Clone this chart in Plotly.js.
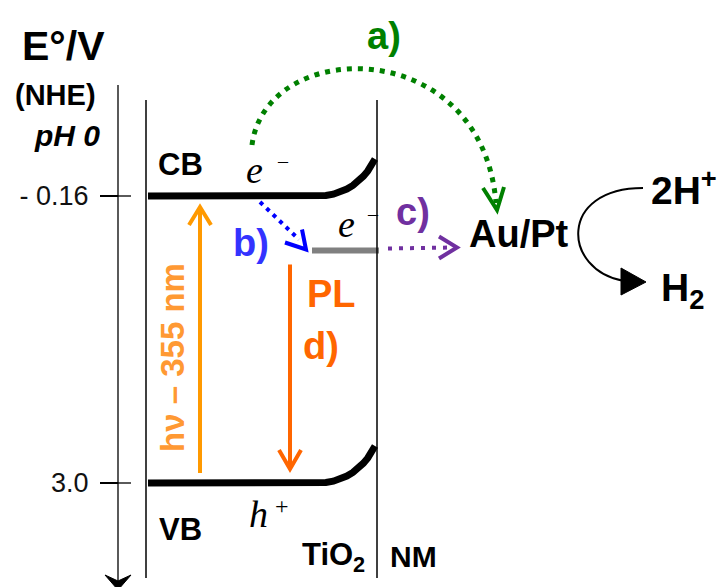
<!DOCTYPE html>
<html><head><meta charset="utf-8">
<script src="https://cdn.plot.ly/plotly-3.0.1.min.js"></script>
<style>html,body{margin:0;padding:0;background:#fff}#chart{width:721px;height:587px}</style>
</head><body><div id="chart"></div>
<script>
// ---- data ----
const levelNames = ['CB', 'VB'];
const levelEnergies = [-0.16, 3.0];      // E°/V vs NHE, pH 0
const tickLabels = ['- 0.16', '3.0'];
const nmLevelEnergy = 0.44;               // NM acceptor level
const processLabels = ['a)', 'b)', 'c)', 'd)'];
const excitationLabel = 'hν – 355 nm';
const emissionLabel = 'PL';
const materials = ['TiO<sub>2</sub>', 'NM'];
const cocatalyst = 'Au/Pt';
const reactant = '2H<sup>+</sup>';
const product = 'H<sub>2</sub>';
const carriers = ['e', 'e', 'h'];
const carrierSigns = ['–', '–', '+'];

// ---- layout helpers ----
const W = 721, H = 587;
const PX0 = 196, PX1 = 483;
const k = (PX1 - PX0) / (levelEnergies[1] - levelEnergies[0]);
const Etop = levelEnergies[0] - PX0 / k;
const Ebot = levelEnergies[1] + (H - PX1) / k;
const py = e => PX0 + (e - levelEnergies[0]) * k;

const SANS = 'Liberation Sans, Arial, sans-serif';
const SERIF = 'Liberation Serif, Times New Roman, serif';

function bezier(p0, p1, p2, p3, t) {
  const u = 1 - t;
  return u*u*u*p0 + 3*u*u*t*p1 + 3*u*t*t*p2 + t*t*t*p3;
}
const traces = levelEnergies.map((e, i) => {
  const xs = [148, 318], ys = [e, e];
  for (let t = 0.1; t <= 1.0001; t += 0.1) {
    xs.push(bezier(318, 345, 365, 375, t));
    const dpx = bezier(0, 0, -16, -37, t);
    ys.push(e + dpx / k);
  }
  return {x: xs, y: ys, type: 'scatter', mode: 'lines', name: levelNames[i],
          line: {color: '#000', width: 7}, hoverinfo: 'skip', showlegend: false};
});
traces.push({x: [312, 379], y: [nmLevelEnergy, nmLevelEnergy], type: 'scatter', mode: 'lines',
  line: {color: '#808080', width: 6}, showlegend: false, hoverinfo: 'skip'});

const pathShape = (path, color, width, dash, fill) => ({
  type: 'path', xref: 'x', yref: 'y2', path: path,
  line: {color: color, width: width, dash: dash || 'solid'},
  fillcolor: fill || 'rgba(0,0,0,0)'
});

const cb = py(levelEnergies[0]), vb = py(levelEnergies[1]), nm = py(nmLevelEnergy);
const shapes = [
  pathShape('M118,85 L118,581', '#000', 1.3),
  pathShape('M105,575 L118,590 L131,575 L118,581 Z', '#000', 1, 'solid', '#000'),
  pathShape('M146,100 L146,578', '#000', 1.5),
  pathShape('M377,100 L377,578', '#000', 1.5),
  pathShape('M252,145 C266,36 482,34 496,203', '#008000', 5, '5px,6px'),
  pathShape('M483,188 L497,210 L504,187', '#008000', 4),
  pathShape(`M260,${cb+6} L299,${nm-11}`, '#0000FF', 4, '4px,5px'),
  pathShape(`M285,${nm-8} L306,${nm-1} L302,${nm-21}`, '#0000FF', 4),
  pathShape(`M388,${nm-2} L452,${nm-3}`, '#7030A0', 4, '4px,7px'),
  pathShape(`M439,${nm-14} L457,${nm-3} L439,${nm+8}`, '#7030A0', 4),
  pathShape(`M200,${vb-10} L200,${cb+12}`, '#FF9900', 4),
  pathShape(`M189,${cb+29} L200,${cb+11} L211,${cb+29}`, '#FF9900', 4),
  pathShape(`M290,${nm+14} L290,${vb-15}`, '#FF6600', 4),
  pathShape(`M279,${vb-33} L290,${vb-14} L301,${vb-33}`, '#FF6600', 4),
  pathShape('M643,188 C558,188 562,270 624,281', '#000', 2),
  pathShape('M621,268 L646,282 L621,295 Z', '#000', 1, 'solid', '#000')
];
levelEnergies.forEach(e => shapes.push({type: 'line', xref: 'x', yref: 'y', x0: 118, x1: 131, y0: e, y1: e,
  line: {color: '#000', width: 1.3}}));

const ann = (x, y, text, size, color, extra) => Object.assign({
  x: x, y: y, xref: 'x', yref: 'y2', text: text, showarrow: false,
  font: {family: SANS, size: size, color: color || '#000'}
}, extra || {});
const serifAnn = (x, y, text, size) => ann(x, y, text, size, '#000', {font: {family: SERIF, size: size, color: '#000'}});

const annotations = [
  ann(63, 46, '<b>E°/V</b>', 41),
  ann(55, 95, '<b>(NHE)</b>', 29),
  ann(67, 135, '<b><i>pH 0</i></b>', 30),
  ann(180, 164, '<b>' + levelNames[0] + '</b>', 31),
  ann(180, 529, '<b>' + levelNames[1] + '</b>', 31),
  ann(333, 557, '<b>' + materials[0] + '</b>', 31),
  ann(413, 556, '<b>' + materials[1] + '</b>', 30),
  ann(384, 36, '<b>' + processLabels[0] + '</b>', 38, '#008000'),
  ann(251, 243, '<b>' + processLabels[1] + '</b>', 38, '#3333FF'),
  ann(413, 212, '<b>' + processLabels[2] + '</b>', 38, '#7030A0'),
  ann(321, 346, '<b>' + processLabels[3] + '</b>', 38, '#FF6600'),
  ann(331, 294, '<b>' + emissionLabel + '</b>', 38, '#FF6600'),
  ann(172, 358, '<b>' + excitationLabel + '</b>', 33, '#FF9933', {textangle: -90}),
  ann(519, 234, '<b>' + cocatalyst + '</b>', 38),
  ann(684, 187, '<b>' + reactant + '</b>', 39),
  ann(682, 290, '<b>' + product + '</b>', 39),
  serifAnn(254, 170, '<i>' + carriers[0] + '</i>', 38),
  serifAnn(283, 161, carrierSigns[0], 20),
  serifAnn(346, 224, '<i>' + carriers[1] + '</i>', 38),
  serifAnn(373, 214, carrierSigns[1], 20),
  serifAnn(258, 514, '<i>' + carriers[2] + '</i>', 38),
  serifAnn(282, 506, carrierSigns[2], 24)
];

const layout = {
  width: W, height: H, margin: {l: 0, r: 0, t: 0, b: 0},
  paper_bgcolor: '#fff', plot_bgcolor: '#fff', showlegend: false,
  xaxis: {range: [0, W], visible: false, fixedrange: true},
  yaxis: {range: [Ebot, Etop], anchor: 'free', position: 118 / W, side: 'left',
          tickvals: levelEnergies, ticktext: tickLabels, ticks: 'outside', ticklen: 18,
          tickwidth: 1.3, tickcolor: '#000', showline: false, showgrid: false, zeroline: false,
          ticklabelstandoff: 6, tickfont: {family: SANS, size: 27, color: '#111'}},
  yaxis2: {range: [H, 0], overlaying: 'y', visible: false},
  shapes: shapes, annotations: annotations
};
Plotly.newPlot('chart', traces, layout, {staticPlot: true, displayModeBar: false});
</script></body></html>
